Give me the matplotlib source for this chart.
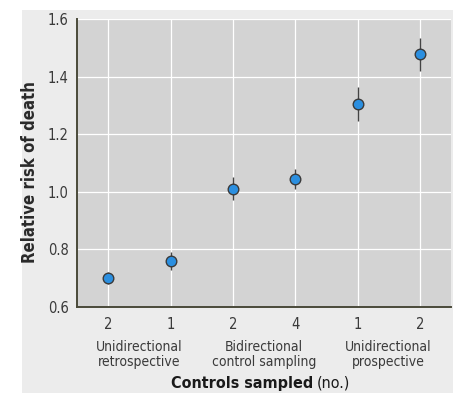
import matplotlib
matplotlib.use('Agg')
import matplotlib.pyplot as plt
from matplotlib.patches import Rectangle
from matplotlib import font_manager

# --- data ---
controls = ['2', '1', '2', '4', '1', '2']
groups = ['Unidirectional\nretrospective', 'Bidirectional\ncontrol sampling', 'Unidirectional\nprospective']
risk = [0.70, 0.76, 1.01, 1.045, 1.305, 1.48]
risk_lo = [0.68, 0.73, 0.97, 1.01, 1.245, 1.42]
risk_hi = [0.72, 0.79, 1.05, 1.08, 1.365, 1.535]

# prefer a condensed face, like the original print
names = {f.name for f in font_manager.fontManager.ttflist}
stretches = {(f.name, f.stretch) for f in font_manager.fontManager.ttflist}
if 'Liberation Sans Narrow' in names:
    plt.rcParams['font.family'] = ['Liberation Sans Narrow', 'DejaVu Sans']
else:
    plt.rcParams['font.family'] = ['DejaVu Sans']
    if any(n == 'DejaVu Sans' and s == 'condensed' for n, s in stretches):
        plt.rcParams['font.stretch'] = 'condensed'

fig = plt.figure(figsize=(4.53, 3.93), dpi=100)
fig.patch.set_facecolor('white')
# light grey panel behind the chart
fig.patches.append(Rectangle((22 / 453, 0), 1, 1 - 10 / 393, transform=fig.transFigure,
                             facecolor='#ececec', edgecolor='none', zorder=-10))

ax = fig.add_axes([77 / 453, 86 / 393, 374 / 453, 288 / 393])
ax.set_facecolor('#d3d3d3')

x = list(range(len(risk)))
yerr = [[r - lo for r, lo in zip(risk, risk_lo)], [hi - r for r, hi in zip(risk, risk_hi)]]
ax.errorbar(x, risk, yerr=yerr, fmt='none', ecolor='#444444', elinewidth=1.0, capsize=0, zorder=3)
ax.scatter(x, risk, s=58, color='#2b8fe0', edgecolors='#3a3a3a', linewidths=1.0, zorder=4)

ax.set_xlim(-0.5, 5.5)
ax.set_ylim(0.6, 1.6)
ax.set_yticks([0.6, 0.8, 1.0, 1.2, 1.4, 1.6])
ax.set_yticklabels(['0.6', '0.8', '1.0', '1.2', '1.4', '1.6'])
ax.set_xticks(x)
ax.set_xticklabels(controls)
ax.tick_params(length=0, labelsize=10.5, labelcolor='#3a3a3a', pad=6)
ax.tick_params(axis='x', pad=7)

ax.grid(True, color='white', linewidth=0.9)
ax.set_axisbelow(True)
for s in ['top', 'right']:
    ax.spines[s].set_visible(False)
for s in ['left', 'bottom']:
    ax.spines[s].set_color('#4a4a3a')
    ax.spines[s].set_linewidth(1.4)

# group labels under pairs of ticks
for i, g in enumerate(groups):
    ax.text(2 * i + 0.5, -0.115, g, transform=ax.get_xaxis_transform(), ha='center', va='top',
            fontsize=10, color='#3a3a3a', linespacing=1.05)

fig.text(30 / 453, 1 - 172 / 393, 'Relative risk of death', rotation=90, ha='center', va='center',
         fontsize=12, fontweight='bold', color='#2a2a2a')

fig.text(313 / 453, 5 / 393, 'Controls sampled', ha='right', va='baseline', fontsize=11.5,
         fontweight='bold', color='#1a1a1a')
fig.text(317 / 453, 5 / 393, '(no.)', ha='left', va='baseline', fontsize=11.5, color='#1a1a1a')

fig.savefig('out.png', dpi=100, facecolor=fig.get_facecolor())
